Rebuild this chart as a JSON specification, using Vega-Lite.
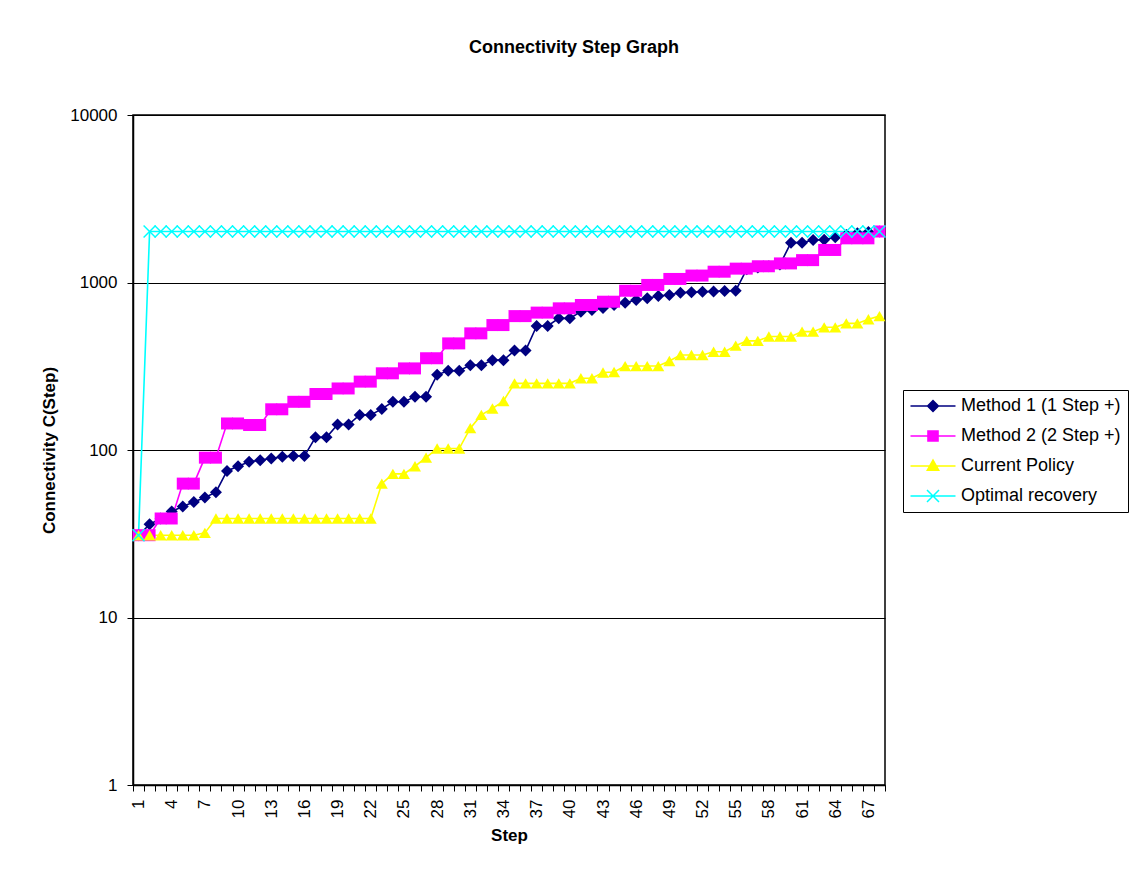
{
  "$schema": "https://vega.github.io/schema/vega-lite/v6.json",
  "width": 752,
  "height": 670,
  "autosize": "none",
  "padding": {"left": 133, "top": 115, "right": 253, "bottom": 97},
  "background": "white",
  "title": {"text": "Connectivity Step Graph", "font": "Liberation Sans", "fontSize": 18, "fontWeight": "bold", "color": "black", "anchor": "middle", "dx": 65, "offset": 49},
  "config": {
    "view": {"stroke": "black", "strokeWidth": 1.5},
    "font": "Liberation Sans",
    "axis": {"domainColor": "black", "domainWidth": 1.5, "tickColor": "black", "tickSize": 6, "labelColor": "black", "labelFont": "Liberation Sans", "labelFontSize": 17, "titleFont": "Liberation Sans", "titleFontSize": 17, "titleFontWeight": "bold", "titleColor": "black", "gridColor": "black", "gridWidth": 1, "gridOpacity": 1}
  },
  "datasets": {
    "d": [
      {"s":"Method 1 (1 Step +)","x":1,"y":31},{"s":"Method 1 (1 Step +)","x":2,"y":36},{"s":"Method 1 (1 Step +)","x":3,"y":39},{"s":"Method 1 (1 Step +)","x":4,"y":43},{"s":"Method 1 (1 Step +)","x":5,"y":46},{"s":"Method 1 (1 Step +)","x":6,"y":49},{"s":"Method 1 (1 Step +)","x":7,"y":52},{"s":"Method 1 (1 Step +)","x":8,"y":56},{"s":"Method 1 (1 Step +)","x":9,"y":75},{"s":"Method 1 (1 Step +)","x":10,"y":80},
      {"s":"Method 1 (1 Step +)","x":11,"y":85},{"s":"Method 1 (1 Step +)","x":12,"y":87},{"s":"Method 1 (1 Step +)","x":13,"y":89},{"s":"Method 1 (1 Step +)","x":14,"y":91},{"s":"Method 1 (1 Step +)","x":15,"y":92},{"s":"Method 1 (1 Step +)","x":16,"y":92},{"s":"Method 1 (1 Step +)","x":17,"y":119},{"s":"Method 1 (1 Step +)","x":18,"y":119},{"s":"Method 1 (1 Step +)","x":19,"y":142},{"s":"Method 1 (1 Step +)","x":20,"y":142},
      {"s":"Method 1 (1 Step +)","x":21,"y":162},{"s":"Method 1 (1 Step +)","x":22,"y":162},{"s":"Method 1 (1 Step +)","x":23,"y":176},{"s":"Method 1 (1 Step +)","x":24,"y":194},{"s":"Method 1 (1 Step +)","x":25,"y":194},{"s":"Method 1 (1 Step +)","x":26,"y":208},{"s":"Method 1 (1 Step +)","x":27,"y":208},{"s":"Method 1 (1 Step +)","x":28,"y":281},{"s":"Method 1 (1 Step +)","x":29,"y":297},{"s":"Method 1 (1 Step +)","x":30,"y":297},
      {"s":"Method 1 (1 Step +)","x":31,"y":321},{"s":"Method 1 (1 Step +)","x":32,"y":321},{"s":"Method 1 (1 Step +)","x":33,"y":344},{"s":"Method 1 (1 Step +)","x":34,"y":344},{"s":"Method 1 (1 Step +)","x":35,"y":392},{"s":"Method 1 (1 Step +)","x":36,"y":392},{"s":"Method 1 (1 Step +)","x":37,"y":550},{"s":"Method 1 (1 Step +)","x":38,"y":550},{"s":"Method 1 (1 Step +)","x":39,"y":611},{"s":"Method 1 (1 Step +)","x":40,"y":611},
      {"s":"Method 1 (1 Step +)","x":41,"y":670},{"s":"Method 1 (1 Step +)","x":42,"y":685},{"s":"Method 1 (1 Step +)","x":43,"y":705},{"s":"Method 1 (1 Step +)","x":44,"y":735},{"s":"Method 1 (1 Step +)","x":45,"y":757},{"s":"Method 1 (1 Step +)","x":46,"y":787},{"s":"Method 1 (1 Step +)","x":47,"y":805},{"s":"Method 1 (1 Step +)","x":48,"y":830},{"s":"Method 1 (1 Step +)","x":49,"y":842},{"s":"Method 1 (1 Step +)","x":50,"y":870},
      {"s":"Method 1 (1 Step +)","x":51,"y":875},{"s":"Method 1 (1 Step +)","x":52,"y":880},{"s":"Method 1 (1 Step +)","x":53,"y":885},{"s":"Method 1 (1 Step +)","x":54,"y":890},{"s":"Method 1 (1 Step +)","x":55,"y":893},{"s":"Method 1 (1 Step +)","x":56,"y":1200},{"s":"Method 1 (1 Step +)","x":57,"y":1230},{"s":"Method 1 (1 Step +)","x":58,"y":1250},{"s":"Method 1 (1 Step +)","x":59,"y":1280},{"s":"Method 1 (1 Step +)","x":60,"y":1729},
      {"s":"Method 1 (1 Step +)","x":61,"y":1729},{"s":"Method 1 (1 Step +)","x":62,"y":1795},{"s":"Method 1 (1 Step +)","x":63,"y":1800},{"s":"Method 1 (1 Step +)","x":64,"y":1861},{"s":"Method 1 (1 Step +)","x":65,"y":1920},{"s":"Method 1 (1 Step +)","x":66,"y":1969},{"s":"Method 1 (1 Step +)","x":67,"y":2000},{"s":"Method 1 (1 Step +)","x":68,"y":2016},

      {"s":"Method 2 (2 Step +)","x":1,"y":31},{"s":"Method 2 (2 Step +)","x":2,"y":31},{"s":"Method 2 (2 Step +)","x":3,"y":39},{"s":"Method 2 (2 Step +)","x":4,"y":39},{"s":"Method 2 (2 Step +)","x":5,"y":63},{"s":"Method 2 (2 Step +)","x":6,"y":63},{"s":"Method 2 (2 Step +)","x":7,"y":90},{"s":"Method 2 (2 Step +)","x":8,"y":90},{"s":"Method 2 (2 Step +)","x":9,"y":144},{"s":"Method 2 (2 Step +)","x":10,"y":144},
      {"s":"Method 2 (2 Step +)","x":11,"y":141},{"s":"Method 2 (2 Step +)","x":12,"y":141},{"s":"Method 2 (2 Step +)","x":13,"y":175},{"s":"Method 2 (2 Step +)","x":14,"y":175},{"s":"Method 2 (2 Step +)","x":15,"y":194},{"s":"Method 2 (2 Step +)","x":16,"y":194},{"s":"Method 2 (2 Step +)","x":17,"y":216},{"s":"Method 2 (2 Step +)","x":18,"y":216},{"s":"Method 2 (2 Step +)","x":19,"y":233},{"s":"Method 2 (2 Step +)","x":20,"y":233},
      {"s":"Method 2 (2 Step +)","x":21,"y":256},{"s":"Method 2 (2 Step +)","x":22,"y":256},{"s":"Method 2 (2 Step +)","x":23,"y":287},{"s":"Method 2 (2 Step +)","x":24,"y":287},{"s":"Method 2 (2 Step +)","x":25,"y":307},{"s":"Method 2 (2 Step +)","x":26,"y":307},{"s":"Method 2 (2 Step +)","x":27,"y":353},{"s":"Method 2 (2 Step +)","x":28,"y":353},{"s":"Method 2 (2 Step +)","x":29,"y":433},{"s":"Method 2 (2 Step +)","x":30,"y":433},
      {"s":"Method 2 (2 Step +)","x":31,"y":497},{"s":"Method 2 (2 Step +)","x":32,"y":497},{"s":"Method 2 (2 Step +)","x":33,"y":557},{"s":"Method 2 (2 Step +)","x":34,"y":557},{"s":"Method 2 (2 Step +)","x":35,"y":630},{"s":"Method 2 (2 Step +)","x":36,"y":630},{"s":"Method 2 (2 Step +)","x":37,"y":661},{"s":"Method 2 (2 Step +)","x":38,"y":661},{"s":"Method 2 (2 Step +)","x":39,"y":701},{"s":"Method 2 (2 Step +)","x":40,"y":701},
      {"s":"Method 2 (2 Step +)","x":41,"y":734},{"s":"Method 2 (2 Step +)","x":42,"y":734},{"s":"Method 2 (2 Step +)","x":43,"y":768},{"s":"Method 2 (2 Step +)","x":44,"y":768},{"s":"Method 2 (2 Step +)","x":45,"y":893},{"s":"Method 2 (2 Step +)","x":46,"y":893},{"s":"Method 2 (2 Step +)","x":47,"y":967},{"s":"Method 2 (2 Step +)","x":48,"y":967},{"s":"Method 2 (2 Step +)","x":49,"y":1050},{"s":"Method 2 (2 Step +)","x":50,"y":1050},
      {"s":"Method 2 (2 Step +)","x":51,"y":1100},{"s":"Method 2 (2 Step +)","x":52,"y":1100},{"s":"Method 2 (2 Step +)","x":53,"y":1160},{"s":"Method 2 (2 Step +)","x":54,"y":1160},{"s":"Method 2 (2 Step +)","x":55,"y":1210},{"s":"Method 2 (2 Step +)","x":56,"y":1210},{"s":"Method 2 (2 Step +)","x":57,"y":1250},{"s":"Method 2 (2 Step +)","x":58,"y":1250},{"s":"Method 2 (2 Step +)","x":59,"y":1300},{"s":"Method 2 (2 Step +)","x":60,"y":1300},
      {"s":"Method 2 (2 Step +)","x":61,"y":1360},{"s":"Method 2 (2 Step +)","x":62,"y":1360},{"s":"Method 2 (2 Step +)","x":63,"y":1564},{"s":"Method 2 (2 Step +)","x":64,"y":1564},{"s":"Method 2 (2 Step +)","x":65,"y":1835},{"s":"Method 2 (2 Step +)","x":66,"y":1835},{"s":"Method 2 (2 Step +)","x":67,"y":1835},{"s":"Method 2 (2 Step +)","x":68,"y":2016},

      {"s":"Current Policy","x":1,"y":31},{"s":"Current Policy","x":2,"y":31},{"s":"Current Policy","x":3,"y":31},{"s":"Current Policy","x":4,"y":31},{"s":"Current Policy","x":5,"y":31},{"s":"Current Policy","x":6,"y":31},{"s":"Current Policy","x":7,"y":32},{"s":"Current Policy","x":8,"y":39},{"s":"Current Policy","x":9,"y":39},{"s":"Current Policy","x":10,"y":39},
      {"s":"Current Policy","x":11,"y":39},{"s":"Current Policy","x":12,"y":39},{"s":"Current Policy","x":13,"y":39},{"s":"Current Policy","x":14,"y":39},{"s":"Current Policy","x":15,"y":39},{"s":"Current Policy","x":16,"y":39},{"s":"Current Policy","x":17,"y":39},{"s":"Current Policy","x":18,"y":39},{"s":"Current Policy","x":19,"y":39},{"s":"Current Policy","x":20,"y":39},
      {"s":"Current Policy","x":21,"y":39},{"s":"Current Policy","x":22,"y":39},{"s":"Current Policy","x":23,"y":63},{"s":"Current Policy","x":24,"y":72},{"s":"Current Policy","x":25,"y":72},{"s":"Current Policy","x":26,"y":80},{"s":"Current Policy","x":27,"y":90},{"s":"Current Policy","x":28,"y":102},{"s":"Current Policy","x":29,"y":102},{"s":"Current Policy","x":30,"y":102},
      {"s":"Current Policy","x":31,"y":135},{"s":"Current Policy","x":32,"y":162},{"s":"Current Policy","x":33,"y":177},{"s":"Current Policy","x":34,"y":196},{"s":"Current Policy","x":35,"y":250},{"s":"Current Policy","x":36,"y":250},{"s":"Current Policy","x":37,"y":250},{"s":"Current Policy","x":38,"y":250},{"s":"Current Policy","x":39,"y":250},{"s":"Current Policy","x":40,"y":250},
      {"s":"Current Policy","x":41,"y":268},{"s":"Current Policy","x":42,"y":268},{"s":"Current Policy","x":43,"y":290},{"s":"Current Policy","x":44,"y":292},{"s":"Current Policy","x":45,"y":317},{"s":"Current Policy","x":46,"y":317},{"s":"Current Policy","x":47,"y":317},{"s":"Current Policy","x":48,"y":317},{"s":"Current Policy","x":49,"y":340},{"s":"Current Policy","x":50,"y":369},
      {"s":"Current Policy","x":51,"y":369},{"s":"Current Policy","x":52,"y":369},{"s":"Current Policy","x":53,"y":386},{"s":"Current Policy","x":54,"y":386},{"s":"Current Policy","x":55,"y":420},{"s":"Current Policy","x":56,"y":448},{"s":"Current Policy","x":57,"y":448},{"s":"Current Policy","x":58,"y":476},{"s":"Current Policy","x":59,"y":476},{"s":"Current Policy","x":60,"y":476},
      {"s":"Current Policy","x":61,"y":509},{"s":"Current Policy","x":62,"y":509},{"s":"Current Policy","x":63,"y":540},{"s":"Current Policy","x":64,"y":540},{"s":"Current Policy","x":65,"y":570},{"s":"Current Policy","x":66,"y":570},{"s":"Current Policy","x":67,"y":603},{"s":"Current Policy","x":68,"y":630},

      {"s":"Optimal recovery","x":1,"y":31},{"s":"Optimal recovery","x":2,"y":2016},{"s":"Optimal recovery","x":3,"y":2016},{"s":"Optimal recovery","x":4,"y":2016},{"s":"Optimal recovery","x":5,"y":2016},{"s":"Optimal recovery","x":6,"y":2016},{"s":"Optimal recovery","x":7,"y":2016},{"s":"Optimal recovery","x":8,"y":2016},{"s":"Optimal recovery","x":9,"y":2016},{"s":"Optimal recovery","x":10,"y":2016},
      {"s":"Optimal recovery","x":11,"y":2016},{"s":"Optimal recovery","x":12,"y":2016},{"s":"Optimal recovery","x":13,"y":2016},{"s":"Optimal recovery","x":14,"y":2016},{"s":"Optimal recovery","x":15,"y":2016},{"s":"Optimal recovery","x":16,"y":2016},{"s":"Optimal recovery","x":17,"y":2016},{"s":"Optimal recovery","x":18,"y":2016},{"s":"Optimal recovery","x":19,"y":2016},{"s":"Optimal recovery","x":20,"y":2016},
      {"s":"Optimal recovery","x":21,"y":2016},{"s":"Optimal recovery","x":22,"y":2016},{"s":"Optimal recovery","x":23,"y":2016},{"s":"Optimal recovery","x":24,"y":2016},{"s":"Optimal recovery","x":25,"y":2016},{"s":"Optimal recovery","x":26,"y":2016},{"s":"Optimal recovery","x":27,"y":2016},{"s":"Optimal recovery","x":28,"y":2016},{"s":"Optimal recovery","x":29,"y":2016},{"s":"Optimal recovery","x":30,"y":2016},
      {"s":"Optimal recovery","x":31,"y":2016},{"s":"Optimal recovery","x":32,"y":2016},{"s":"Optimal recovery","x":33,"y":2016},{"s":"Optimal recovery","x":34,"y":2016},{"s":"Optimal recovery","x":35,"y":2016},{"s":"Optimal recovery","x":36,"y":2016},{"s":"Optimal recovery","x":37,"y":2016},{"s":"Optimal recovery","x":38,"y":2016},{"s":"Optimal recovery","x":39,"y":2016},{"s":"Optimal recovery","x":40,"y":2016},
      {"s":"Optimal recovery","x":41,"y":2016},{"s":"Optimal recovery","x":42,"y":2016},{"s":"Optimal recovery","x":43,"y":2016},{"s":"Optimal recovery","x":44,"y":2016},{"s":"Optimal recovery","x":45,"y":2016},{"s":"Optimal recovery","x":46,"y":2016},{"s":"Optimal recovery","x":47,"y":2016},{"s":"Optimal recovery","x":48,"y":2016},{"s":"Optimal recovery","x":49,"y":2016},{"s":"Optimal recovery","x":50,"y":2016},
      {"s":"Optimal recovery","x":51,"y":2016},{"s":"Optimal recovery","x":52,"y":2016},{"s":"Optimal recovery","x":53,"y":2016},{"s":"Optimal recovery","x":54,"y":2016},{"s":"Optimal recovery","x":55,"y":2016},{"s":"Optimal recovery","x":56,"y":2016},{"s":"Optimal recovery","x":57,"y":2016},{"s":"Optimal recovery","x":58,"y":2016},{"s":"Optimal recovery","x":59,"y":2016},{"s":"Optimal recovery","x":60,"y":2016},
      {"s":"Optimal recovery","x":61,"y":2016},{"s":"Optimal recovery","x":62,"y":2016},{"s":"Optimal recovery","x":63,"y":2016},{"s":"Optimal recovery","x":64,"y":2016},{"s":"Optimal recovery","x":65,"y":2016},{"s":"Optimal recovery","x":66,"y":2016},{"s":"Optimal recovery","x":67,"y":2016},{"s":"Optimal recovery","x":68,"y":2016}
    ]
  },
  "data": {"name": "d"},
  "encoding": {
    "x": {"field": "x", "type": "ordinal", "scale": {"type": "band", "paddingInner": 0, "paddingOuter": 0},
      "axis": {"title": "Step", "labelAngle": -90, "labelExpr": "(datum.value - 1) % 3 == 0 ? datum.label : ''", "labelOverlap": false, "tickBand": "extent", "labelPadding": 8, "titlePadding": 10, "grid": false}},
    "y": {"field": "y", "type": "quantitative", "scale": {"type": "log", "domain": [1, 10000]},
      "axis": {"title": "Connectivity C(Step)", "values": [1, 10, 100, 1000, 10000], "format": "d", "grid": true, "labelPadding": 10, "titlePadding": 11}}
  },
  "layer": [
    {
      "mark": {"type": "line", "strokeWidth": 1.6},
      "encoding": {
        "color": {"field": "s", "type": "nominal", "scale": {"domain": ["Method 1 (1 Step +)", "Method 2 (2 Step +)", "Current Policy", "Optimal recovery"], "range": ["#000080", "#FF00FF", "#FFFF00", "#00FFFF"]}, "legend": null}
      }
    },
    {
      "mark": {"type": "point", "filled": true, "size": 144, "opacity": 1, "strokeWidth": 0},
      "encoding": {
        "color": {"field": "s", "type": "nominal", "scale": {"domain": ["Method 1 (1 Step +)", "Method 2 (2 Step +)", "Current Policy", "Optimal recovery"], "range": ["#000080", "#FF00FF", "#FFFF00", "#00FFFF"]}, "legend": null},
        "shape": {"field": "s", "type": "nominal", "scale": {"domain": ["Method 1 (1 Step +)", "Method 2 (2 Step +)", "Current Policy", "Optimal recovery"], "range": ["diamond", "square", "triangle-up", "M-0.912,-1.088L1.088,0.912L0.912,1.088L-1.088,-0.912Z M1.088,-0.912L-0.912,1.088L-1.088,0.912L0.912,-1.088Z"]}, "legend": null}
      }
    },
    {
      "transform": [{"filter": "datum.x > 1000"}],
      "mark": {"type": "point", "filled": true, "opacity": 1},
      "encoding": {
        "color": {"field": "s", "type": "nominal", "scale": {"domain": ["Method 1 (1 Step +)", "Method 2 (2 Step +)", "Current Policy", "Optimal recovery"], "range": ["#000080", "#FF00FF", "#FFFF00", "#00FFFF"]},
          "legend": {"title": null, "orient": "none", "legendX": 770, "legendY": 275, "strokeColor": "black", "fillColor": "white", "padding": 7, "symbolSize": 100, "symbolStrokeWidth": 0, "symbolOffset": 14, "labelOffset": 19, "labelFont": "Liberation Sans", "labelFontSize": 18, "labelColor": "black", "rowPadding": 12}},
        "shape": {"field": "s", "type": "nominal", "scale": {"domain": ["Method 1 (1 Step +)", "Method 2 (2 Step +)", "Current Policy", "Optimal recovery"], "range": [
          "M-4.5,-0.17H4.5V0.17H-4.5Z M0,-1.3L1.3,0L0,1.3L-1.3,0Z",
          "M-4.5,-0.17H4.5V0.17H-4.5Z M-1.16,-1.16H1.16V1.16H-1.16Z",
          "M-4.5,-0.17H4.5V0.17H-4.5Z M0,-1.5L1.4,1.0L-1.4,1.0Z",
          "M-4.5,-0.17H4.5V0.17H-4.5Z M-1.094,-1.306L1.306,1.094L1.094,1.306L-1.306,-1.094Z M1.306,-1.094L-1.094,1.306L-1.306,1.094L1.094,-1.306Z"
        ]},
          "legend": {"title": null, "orient": "none", "legendX": 770, "legendY": 275, "strokeColor": "black", "fillColor": "white", "padding": 7, "symbolSize": 100, "symbolStrokeWidth": 0, "symbolOffset": 14, "labelOffset": 19, "labelFont": "Liberation Sans", "labelFontSize": 18, "labelColor": "black", "rowPadding": 12}}
      }
    }
  ],
  "resolve": {"scale": {"color": "independent", "shape": "independent"}}
}
